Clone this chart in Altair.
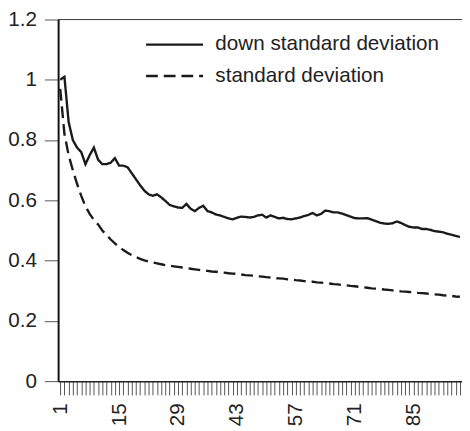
import altair as alt
import pandas as pd

periods = list(range(1, 97))

down_sd = [
    1.000, 1.010, 0.860, 0.800, 0.775, 0.760, 0.720, 0.750, 0.775, 0.735,
    0.720, 0.720, 0.725, 0.740, 0.715, 0.715, 0.710, 0.690, 0.670, 0.650,
    0.632, 0.620, 0.615, 0.620, 0.610, 0.598, 0.585, 0.580, 0.576, 0.575,
    0.588, 0.572, 0.564, 0.575, 0.582, 0.564, 0.560, 0.553, 0.550, 0.545,
    0.540, 0.537, 0.542, 0.546, 0.545, 0.543, 0.545, 0.550, 0.552, 0.543,
    0.550, 0.545, 0.540, 0.542, 0.538, 0.537, 0.540, 0.543, 0.548, 0.552,
    0.558, 0.550, 0.555, 0.566, 0.564, 0.560, 0.560, 0.556, 0.551, 0.546,
    0.541, 0.540, 0.540, 0.541, 0.536, 0.531, 0.526, 0.523, 0.522, 0.524,
    0.530, 0.525, 0.518, 0.512, 0.510, 0.510, 0.505, 0.505, 0.502, 0.498,
    0.496, 0.494, 0.489, 0.486, 0.482, 0.478,
]

sd = [
    0.970, 0.820, 0.750, 0.700, 0.655, 0.615, 0.580, 0.555, 0.535, 0.520,
    0.500, 0.485, 0.470, 0.457, 0.446, 0.435, 0.426, 0.418, 0.412, 0.406,
    0.401, 0.397, 0.394, 0.391, 0.388, 0.385, 0.383, 0.381, 0.379, 0.377,
    0.375, 0.373, 0.371, 0.369, 0.367, 0.366, 0.364, 0.363, 0.361, 0.360,
    0.358, 0.357, 0.356, 0.354, 0.352, 0.351, 0.350, 0.348, 0.347, 0.345,
    0.344, 0.342, 0.341, 0.340, 0.338, 0.337, 0.335, 0.334, 0.332, 0.331,
    0.330, 0.328, 0.327, 0.325, 0.324, 0.322, 0.321, 0.319, 0.318, 0.316,
    0.315, 0.313, 0.312, 0.310, 0.308, 0.307, 0.306, 0.304, 0.303, 0.301,
    0.300, 0.298, 0.297, 0.296, 0.295, 0.293, 0.292, 0.291, 0.289, 0.288,
    0.287, 0.285, 0.284, 0.283, 0.281, 0.280,
]

series_names = ["down standard deviation", "standard deviation"]
y_ticks = [0, 0.2, 0.4, 0.6, 0.8, 1, 1.2]

df = pd.concat([
    pd.DataFrame({"period": periods, "value": down_sd, "series": series_names[0]}),
    pd.DataFrame({"period": periods, "value": sd, "series": series_names[1]}),
])

FONT = "Liberation Sans"
TXT = "#222222"
LINE = "#1a1a1a"

x_enc = alt.X(
    "period:Q",
    scale=alt.Scale(domain=[0.5, 96.5], nice=False, zero=False),
    axis=alt.Axis(
        title=None,
        values=periods,
        labelExpr="(datum.value - 1) % 14 == 0 ? datum.label : ''",
        labelAngle=270,
        labelOverlap=False,
        labelFlush=False,
        labelFont=FONT,
        labelFontSize=21,
        labelColor=TXT,
        labelPadding=8,
        tickSize=14,
        tickColor="#555555",
        tickWidth=1,
        domainColor="#222222",
        domainWidth=1.5,
        grid=False,
    ),
)

y_enc = alt.Y(
    "value:Q",
    scale=alt.Scale(domain=[0, 1.2], nice=False, zero=True),
    axis=alt.Axis(
        title=None,
        values=y_ticks,
        format="~g",
        labelFont=FONT,
        labelFontSize=21,
        labelColor=TXT,
        labelPadding=8,
        tickSize=14,
        tickColor="#555555",
        tickWidth=1,
        domainColor="#111111",
        domainWidth=2,
        grid=False,
    ),
)

lines = alt.Chart(df).mark_line(strokeWidth=2.4, color=LINE).encode(
    x=x_enc,
    y=y_enc,
    strokeDash=alt.StrokeDash(
        "series:N",
        scale=alt.Scale(domain=series_names, range=[[1, 0], [12, 6]]),
        legend=alt.Legend(
            title=None,
            orient="none",
            legendX=107,
            legendY=14,
            symbolType="M-2.9,0H2.9",
            symbolSize=400,
            symbolStrokeWidth=2.4,
            symbolStrokeColor=LINE,
            labelFont=FONT,
            labelFontSize=21,
            labelColor=TXT,
            labelOffset=30,
            labelLimit=400,
            rowPadding=10,
            padding=0,
        ),
    ),
)

top_rule = alt.Chart(df).mark_rule(color="#444444", strokeWidth=1.2).encode(
    y=alt.datum(1.2)
)

chart = (
    alt.layer(top_rule, lines)
    .properties(
        width=411,
        height=368,
        autosize=alt.AutoSizeParams(type="none"),
        padding={"left": 51, "top": 8, "right": 0, "bottom": 47},
    )
    .configure_view(stroke=None)
    .configure(background="white")
)

chart.save("out.html", embed_options={"renderer": "svg", "actions": False})
